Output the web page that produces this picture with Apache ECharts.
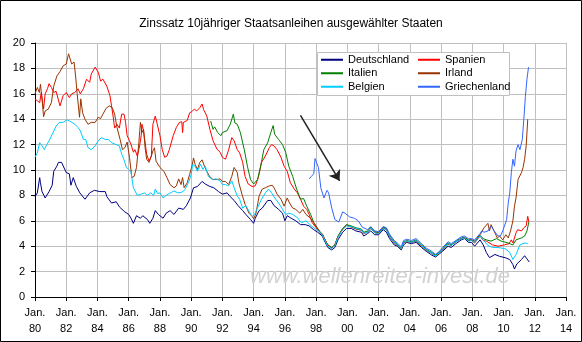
<!DOCTYPE html>
<html><head><meta charset="utf-8">
<script src="https://cdn.jsdelivr.net/npm/echarts@6/dist/echarts.min.js"></script>
<style>html,body{margin:0;padding:0;background:#fff}#c{width:582px;height:342px}</style>
</head><body><div id="c"></div>
<script>
const titleText = 'Zinssatz 10jähriger Staatsanleihen ausgewählter Staaten';
const watermarkText = 'www.wellenreiter-invest.de';
const seriesNames = ['Deutschland','Spanien','Italien','Irland','Belgien','Griechenland'];
const seriesColors = ['#000080','#ff0000','#008000','#993300','#00ccff','#3366ff'];
const xMin = 1980, xMax = 2014, xStep = 2;
const yMin = 0, yMax = 20, yStep = 2;
const arrowFrom = [1997.0, 14.3];
const arrowTo = [1999.5, 9.15];

const deutschland = [[1980.0,7.9],[1980.15,8.2],[1980.3,9.4],[1980.35,9.0],[1980.45,8.3],[1980.65,7.8],[1980.9,8.3],[1981.1,8.8],[1981.2,9.9],[1981.4,10.3],[1981.5,10.6],[1981.7,10.6],[1982.0,9.8],[1982.2,9.7],[1982.3,8.8],[1982.45,9.4],[1982.65,8.7],[1982.87,8.2],[1983.2,7.7],[1983.5,8.2],[1983.8,8.4],[1984.15,8.3],[1984.5,8.3],[1984.6,7.9],[1984.9,7.4],[1985.2,7.5],[1985.4,7.1],[1985.75,6.7],[1986.0,6.5],[1986.15,6.2],[1986.3,5.8],[1986.5,6.4],[1986.75,6.2],[1986.9,6.4],[1987.2,6.1],[1987.35,5.8],[1987.55,6.2],[1987.7,6.8],[1987.9,6.5],[1988.2,6.2],[1988.4,6.6],[1988.65,6.8],[1988.9,6.5],[1989.2,7.0],[1989.5,6.9],[1989.7,7.2],[1989.95,7.8],[1990.15,8.6],[1990.4,8.7],[1990.7,9.1],[1990.9,8.9],[1991.2,8.7],[1991.45,8.6],[1991.75,8.3],[1992.0,8.1],[1992.3,8.2],[1992.5,7.9],[1992.75,7.6],[1993.0,7.2],[1993.3,6.8],[1993.5,6.5],[1993.8,6.1],[1994.0,5.8],[1994.1,6.2],[1994.35,6.8],[1994.55,7.0],[1994.9,7.6],[1995.1,7.6],[1995.3,7.2],[1995.6,6.9],[1995.85,6.6],[1996.0,6.0],[1996.15,6.4],[1996.4,6.2],[1996.7,6.0],[1997.0,5.7],[1997.3,5.7],[1997.55,5.6],[1997.85,5.3],[1998.1,5.1],[1998.4,4.8],[1998.5,4.5],[1998.75,3.9],[1999.0,3.7],[1999.2,3.9],[1999.4,4.5],[1999.7,5.1],[1999.95,5.4],[2000.25,5.4],[2000.55,5.2],[2000.9,5.1],[2001.05,4.8],[2001.3,5.0],[2001.5,5.2],[2001.75,4.9],[2002.0,4.9],[2002.3,5.3],[2002.5,5.1],[2002.7,4.6],[2003.0,4.1],[2003.2,4.0],[2003.45,3.7],[2003.6,4.1],[2003.8,4.3],[2004.1,4.2],[2004.4,4.3],[2004.75,3.9],[2005.05,3.6],[2005.4,3.3],[2005.65,3.15],[2005.9,3.4],[2006.1,3.6],[2006.45,4.0],[2006.65,3.9],[2006.95,4.2],[2007.3,4.5],[2007.5,4.6],[2007.75,4.3],[2007.95,4.3],[2008.15,4.0],[2008.5,4.5],[2008.7,4.1],[2008.9,3.5],[2009.1,3.1],[2009.45,3.35],[2009.75,3.2],[2010.1,3.1],[2010.4,2.95],[2010.6,2.55],[2010.7,2.2],[2010.85,2.6],[2011.15,2.95],[2011.35,3.25],[2011.5,3.0],[2011.65,2.75]];

const spanien = [[1980.0,15.6],[1980.15,15.45],[1980.3,15.3],[1980.4,16.1],[1980.55,14.8],[1980.65,16.0],[1980.8,16.4],[1980.9,16.8],[1981.05,16.5],[1981.2,16.1],[1981.35,16.2],[1981.6,15.05],[1981.8,15.85],[1982.0,16.1],[1982.2,15.7],[1982.35,16.0],[1982.55,16.1],[1982.75,16.4],[1982.9,16.0],[1983.1,16.4],[1983.3,17.15],[1983.5,16.9],[1983.6,17.55],[1983.85,18.1],[1983.95,18.15],[1984.05,17.7],[1984.2,17.0],[1984.35,17.15],[1984.6,16.6],[1984.8,15.85],[1984.9,15.05],[1985.0,14.25],[1985.1,13.3],[1985.25,13.6],[1985.4,13.3],[1985.55,14.4],[1985.7,14.4],[1985.8,13.75],[1985.9,12.7],[1986.05,12.3],[1986.15,12.0],[1986.3,11.4],[1986.4,11.6],[1986.55,11.1],[1986.7,11.9],[1986.8,12.7],[1986.85,13.6],[1986.95,13.1],[1987.15,11.25],[1987.3,10.7],[1987.45,11.1],[1987.55,13.6],[1987.7,14.25],[1987.8,13.75],[1988.0,12.7],[1988.15,11.6],[1988.3,11.0],[1988.45,11.1],[1988.6,11.6],[1988.85,12.7],[1989.05,13.35],[1989.25,13.75],[1989.4,13.8],[1989.45,12.95],[1989.5,13.75],[1989.75,13.9],[1989.9,14.5],[1990.05,14.6],[1990.2,14.8],[1990.35,14.65],[1990.55,14.9],[1990.7,15.2],[1990.8,14.75],[1991.0,14.25],[1991.2,13.2],[1991.4,12.3],[1991.65,11.65],[1991.85,11.4],[1992.0,11.0],[1992.2,10.85],[1992.4,11.6],[1992.6,12.55],[1992.75,12.3],[1992.95,11.6],[1993.1,11.35],[1993.3,10.6],[1993.45,9.5],[1993.65,8.9],[1993.9,8.7],[1994.1,8.75],[1994.3,9.4],[1994.5,10.6],[1994.75,11.1],[1995.0,11.75],[1995.15,12.0],[1995.3,11.9],[1995.5,11.6],[1995.75,11.0],[1995.95,10.3],[1996.15,9.9],[1996.35,9.0],[1996.6,8.5],[1996.8,8.2],[1997.0,7.7],[1997.2,7.15],[1997.4,6.9],[1997.55,6.5],[1997.75,5.85],[1998.1,5.3],[1998.4,4.9],[1998.5,4.65],[1998.75,4.1],[1999.0,3.85],[1999.2,4.1],[1999.4,4.75],[1999.7,5.35],[1999.95,5.65],[2000.25,5.55],[2000.55,5.4],[2000.9,5.3],[2001.05,5.05],[2001.3,5.15],[2001.5,5.45],[2001.75,5.1],[2002.0,5.05],[2002.3,5.45],[2002.5,5.35],[2002.7,4.8],[2003.0,4.3],[2003.2,4.1],[2003.45,3.8],[2003.6,4.3],[2003.8,4.4],[2004.1,4.3],[2004.4,4.45],[2004.75,4.05],[2005.05,3.7],[2005.4,3.45],[2005.65,3.2],[2005.9,3.5],[2006.1,3.7],[2006.45,4.2],[2006.65,4.05],[2006.95,4.35],[2007.3,4.6],[2007.5,4.65],[2007.75,4.45],[2007.95,4.45],[2008.15,4.25],[2008.5,4.8],[2008.7,4.45],[2008.9,4.4],[2009.3,4.1],[2009.65,4.0],[2010.05,4.1],[2010.35,4.2],[2010.5,4.5],[2010.6,4.25],[2010.8,5.05],[2010.9,5.3],[2011.15,5.2],[2011.3,5.45],[2011.45,5.6],[2011.55,6.35],[2011.62,5.9]];

const italien = [[1991.25,13.85],[1991.4,13.2],[1991.5,13.4],[1991.7,12.95],[1991.9,12.7],[1992.0,12.95],[1992.3,13.1],[1992.5,13.6],[1992.7,14.4],[1992.8,13.7],[1992.95,13.6],[1993.15,12.95],[1993.4,11.6],[1993.6,10.3],[1993.8,9.25],[1994.0,8.9],[1994.25,9.25],[1994.45,10.3],[1994.65,11.6],[1994.9,12.15],[1995.1,12.95],[1995.25,13.5],[1995.35,12.8],[1995.6,12.4],[1995.85,12.0],[1996.05,11.4],[1996.25,10.3],[1996.5,9.5],[1996.75,8.5],[1997.0,7.7],[1997.2,7.75],[1997.4,7.15],[1997.65,6.5],[1997.85,5.85],[1998.2,5.2],[1998.45,4.8],[1998.5,4.7],[1998.75,4.1],[1999.0,3.9],[1999.2,4.1],[1999.4,4.8],[1999.7,5.4],[1999.95,5.7],[2000.25,5.6],[2000.55,5.45],[2000.9,5.35],[2001.05,5.1],[2001.3,5.2],[2001.5,5.5],[2001.75,5.15],[2002.0,5.1],[2002.3,5.5],[2002.5,5.4],[2002.7,4.85],[2003.0,4.35],[2003.2,4.15],[2003.45,3.85],[2003.6,4.35],[2003.8,4.45],[2004.1,4.35],[2004.4,4.5],[2004.75,4.1],[2005.05,3.75],[2005.4,3.5],[2005.65,3.3],[2005.9,3.55],[2006.1,3.8],[2006.45,4.25],[2006.65,4.1],[2006.95,4.4],[2007.3,4.65],[2007.5,4.7],[2007.75,4.5],[2007.95,4.5],[2008.15,4.35],[2008.5,4.85],[2008.7,4.6],[2008.9,4.5],[2009.2,4.4],[2009.55,4.6],[2009.85,4.4],[2010.3,4.25],[2010.6,4.1],[2010.8,4.5],[2011.15,4.65],[2011.35,4.8],[2011.5,5.2],[2011.62,5.9]];

const irland = [[1980.0,16.0],[1980.15,16.5],[1980.28,16.1],[1980.35,16.75],[1980.45,15.6],[1980.55,14.2],[1980.65,14.65],[1980.85,14.8],[1981.05,15.3],[1981.2,16.6],[1981.4,17.4],[1981.6,17.75],[1981.8,18.2],[1982.0,18.35],[1982.15,19.15],[1982.25,19.05],[1982.35,18.35],[1982.5,18.5],[1982.6,17.4],[1982.7,16.0],[1982.85,14.15],[1982.93,15.6],[1983.05,14.5],[1983.2,14.0],[1983.4,13.6],[1983.6,13.75],[1983.85,13.75],[1984.05,14.15],[1984.2,14.05],[1984.35,14.4],[1984.55,14.85],[1984.75,15.05],[1984.95,14.9],[1985.1,14.4],[1985.25,13.35],[1985.45,12.4],[1985.6,11.6],[1985.75,11.75],[1985.9,12.2],[1986.05,11.0],[1986.2,9.4],[1986.35,9.5],[1986.5,10.2],[1986.65,12.15],[1986.75,13.75],[1986.85,12.95],[1986.95,13.2],[1987.05,11.75],[1987.15,10.85],[1987.3,10.6],[1987.45,11.1],[1987.55,11.5],[1987.65,11.75],[1987.75,10.7],[1988.0,10.2],[1988.25,9.9],[1988.45,9.4],[1988.65,8.85],[1988.9,8.6],[1989.05,8.75],[1989.2,9.3],[1989.35,8.85],[1989.45,9.4],[1989.55,8.6],[1989.75,9.0],[1989.9,9.65],[1990.05,10.3],[1990.15,10.95],[1990.25,10.45],[1990.4,10.05],[1990.55,10.6],[1990.7,10.8],[1990.85,10.3],[1991.0,9.9],[1991.2,9.45],[1991.4,9.25],[1991.65,9.25],[1991.85,9.3],[1992.0,9.1],[1992.2,9.1],[1992.4,8.85],[1992.6,9.5],[1992.75,10.2],[1992.85,10.3],[1992.95,9.8],[1993.05,9.0],[1993.25,8.1],[1993.45,7.3],[1993.7,6.6],[1993.9,6.35],[1994.0,6.15],[1994.15,6.6],[1994.35,7.95],[1994.55,8.5],[1994.75,8.6],[1995.0,8.75],[1995.2,8.8],[1995.35,8.5],[1995.5,8.1],[1995.75,7.7],[1995.95,7.15],[1996.15,7.8],[1996.3,7.4],[1996.5,7.0],[1996.7,6.9],[1996.95,6.6],[1997.15,6.9],[1997.35,6.5],[1997.6,6.25],[1997.85,5.85],[1998.2,5.2],[1998.45,4.9],[1998.5,4.65],[1998.75,4.1],[1999.0,3.85],[1999.2,4.1],[1999.4,4.75],[1999.7,5.35],[1999.95,5.65],[2000.25,5.5],[2000.55,5.35],[2000.9,5.25],[2001.05,5.0],[2001.3,5.1],[2001.5,5.4],[2001.75,5.05],[2002.0,5.0],[2002.3,5.4],[2002.5,5.3],[2002.7,4.75],[2003.0,4.25],[2003.2,4.05],[2003.45,3.75],[2003.6,4.25],[2003.8,4.35],[2004.1,4.3],[2004.4,4.4],[2004.75,4.0],[2005.05,3.65],[2005.4,3.45],[2005.65,3.2],[2005.9,3.45],[2006.1,3.7],[2006.45,4.15],[2006.65,4.05],[2006.95,4.35],[2007.3,4.6],[2007.5,4.65],[2007.75,4.45],[2007.95,4.5],[2008.15,4.4],[2008.5,4.9],[2008.6,5.05],[2008.75,5.45],[2009.0,5.8],[2009.1,5.2],[2009.2,5.7],[2009.45,5.05],[2009.6,4.65],[2009.75,4.8],[2009.95,4.5],[2010.15,4.9],[2010.3,4.65],[2010.45,5.2],[2010.6,6.0],[2010.7,7.15],[2010.8,7.8],[2010.85,8.35],[2010.93,9.25],[2011.15,9.8],[2011.25,10.2],[2011.35,10.85],[2011.45,11.9],[2011.55,14.0]];

const belgien = [[1980.0,11.0],[1980.15,11.35],[1980.3,12.15],[1980.45,11.9],[1980.6,11.6],[1980.75,12.0],[1980.9,12.3],[1981.1,12.8],[1981.35,13.45],[1981.55,13.75],[1981.8,13.75],[1982.05,13.95],[1982.3,13.8],[1982.55,13.6],[1982.75,13.35],[1982.9,13.1],[1983.1,12.4],[1983.25,12.4],[1983.4,11.75],[1983.6,11.6],[1983.85,11.9],[1984.05,12.3],[1984.25,12.55],[1984.5,12.4],[1984.7,12.4],[1984.9,12.15],[1985.2,12.0],[1985.4,11.9],[1985.55,11.25],[1985.7,10.8],[1985.85,10.2],[1986.0,10.05],[1986.15,9.8],[1986.3,8.6],[1986.55,8.0],[1986.8,8.1],[1987.0,8.2],[1987.2,8.0],[1987.4,8.2],[1987.6,8.0],[1987.7,8.5],[1987.85,8.15],[1988.0,8.2],[1988.2,7.8],[1988.4,8.0],[1988.6,8.15],[1988.9,8.35],[1989.15,8.2],[1989.4,8.25],[1989.6,8.45],[1989.85,9.1],[1990.0,9.65],[1990.1,10.45],[1990.25,10.3],[1990.4,9.9],[1990.6,10.45],[1990.75,10.05],[1990.9,10.3],[1991.1,9.5],[1991.35,9.25],[1991.6,9.3],[1991.85,9.15],[1992.0,8.85],[1992.2,8.85],[1992.4,8.75],[1992.6,9.15],[1992.75,8.6],[1992.95,7.95],[1993.1,7.7],[1993.3,7.0],[1993.5,7.2],[1993.7,6.75],[1993.9,6.35],[1994.05,6.5],[1994.3,7.15],[1994.5,7.7],[1994.75,8.2],[1994.95,8.5],[1995.15,8.2],[1995.35,7.8],[1995.6,7.4],[1995.85,6.9],[1996.05,6.5],[1996.25,6.6],[1996.5,6.5],[1996.8,6.25],[1997.05,5.85],[1997.35,6.0],[1997.6,5.7],[1997.85,5.45],[1998.15,5.2],[1998.4,4.9],[1998.5,4.6],[1998.75,4.0],[1999.0,3.8],[1999.2,4.05],[1999.4,4.7],[1999.7,5.3],[1999.95,5.6],[2000.25,5.55],[2000.55,5.4],[2000.9,5.3],[2001.05,5.05],[2001.3,5.1],[2001.5,5.45],[2001.75,5.05],[2002.0,5.0],[2002.3,5.4],[2002.5,5.3],[2002.7,4.8],[2003.0,4.3],[2003.2,4.1],[2003.45,3.8],[2003.6,4.3],[2003.8,4.4],[2004.1,4.3],[2004.4,4.45],[2004.75,4.05],[2005.05,3.7],[2005.4,3.45],[2005.65,3.2],[2005.9,3.5],[2006.1,3.7],[2006.45,4.2],[2006.65,4.05],[2006.95,4.35],[2007.3,4.6],[2007.5,4.65],[2007.75,4.4],[2007.95,4.45],[2008.15,4.3],[2008.5,4.8],[2008.7,4.5],[2009.0,4.05],[2009.3,3.9],[2009.65,3.9],[2010.1,3.8],[2010.4,3.5],[2010.6,2.95],[2010.8,3.35],[2011.05,4.1],[2011.35,4.25],[2011.55,4.2]];

const griechenland = [[1997.55,9.3],[1997.7,9.5],[1997.85,9.7],[1997.93,10.9],[1998.05,11.0],[1998.15,10.2],[1998.3,8.6],[1998.5,7.8],[1998.7,8.4],[1998.8,8.2],[1999.0,7.0],[1999.2,6.1],[1999.45,5.9],[1999.7,6.7],[1999.85,6.6],[2000.15,6.3],[2000.45,6.2],[2000.7,6.0],[2000.95,5.5],[2001.3,5.3],[2001.5,5.55],[2001.75,5.2],[2002.0,5.15],[2002.3,5.55],[2002.5,5.45],[2002.7,4.95],[2003.0,4.45],[2003.2,4.25],[2003.45,3.95],[2003.6,4.45],[2003.8,4.55],[2004.1,4.45],[2004.4,4.6],[2004.75,4.2],[2005.05,3.85],[2005.4,3.6],[2005.65,3.35],[2005.9,3.6],[2006.1,3.9],[2006.45,4.35],[2006.65,4.2],[2006.95,4.45],[2007.3,4.75],[2007.5,4.8],[2007.75,4.6],[2007.95,4.6],[2008.15,4.5],[2008.5,5.0],[2008.6,5.2],[2008.75,5.1],[2009.0,5.2],[2009.2,5.6],[2009.4,5.2],[2009.65,4.8],[2009.8,4.8],[2009.95,5.2],[2010.2,6.1],[2010.3,7.4],[2010.4,8.2],[2010.5,9.8],[2010.6,10.85],[2010.7,10.3],[2010.8,11.5],[2010.93,12.0],[2011.05,11.6],[2011.2,12.4],[2011.3,14.0],[2011.4,15.8],[2011.5,17.15],[2011.6,18.1]];

const seriesData = [deutschland, spanien, italien, irland, belgien, griechenland];

const font = 'Liberation Sans, Arial, sans-serif';
const chart = echarts.init(document.getElementById('c'), null, {renderer: 'canvas'});

const series = seriesNames.map((name, i) => ({
  name: name,
  type: 'line',
  data: seriesData[i],
  showSymbol: false,
  symbol: 'none',
  color: seriesColors[i],
  lineStyle: {width: 1, color: seriesColors[i]},
  z: 3 + i,
  animation: false
}));
series[0].markLine = {
  silent: true,
  symbol: ['none', 'arrow'],
  symbolSize: 10,
  label: {show: false},
  lineStyle: {color: '#222', width: 1.5, type: 'solid'},
  data: [[{coord: arrowFrom, symbol: 'none'}, {coord: arrowTo, symbol: 'arrow', symbolSize: 10}]],
  animation: false
};

const legendCommon = {
  orient: 'vertical',
  icon: 'rect',
  itemWidth: 22,
  itemHeight: 2,
  itemGap: 1,
  z: 20,
  padding: 0,
  itemStyle: {borderWidth: 0},
  textStyle: {fontFamily: font, fontSize: 11, color: '#000', lineHeight: 12.5}
};

chart.setOption({
  backgroundColor: '#fff',
  animation: false,
  title: {
    text: titleText,
    left: 'center',
    top: 13,
    textStyle: {fontFamily: font, fontSize: 12, fontWeight: 'normal', color: '#000'}
  },
  legend: [
    Object.assign({}, legendCommon, {data: [seriesNames[0], seriesNames[2], seriesNames[4]], left: 321, top: 53.5}),
    Object.assign({}, legendCommon, {data: [seriesNames[1], seriesNames[3], seriesNames[5]], left: 418, top: 53.5})
  ],
  grid: {left: 35, right: 16, top: 43, bottom: 45, containLabel: false},
  xAxis: {
    type: 'value',
    min: xMin, max: xMax, interval: xStep,
    axisLine: {show: true, lineStyle: {color: '#000', width: 1}},
    axisTick: {show: true, length: 4, lineStyle: {color: '#000'}},
    splitLine: {show: true, lineStyle: {color: '#c0c0c0', width: 1}},
    axisLabel: {
      fontFamily: font, fontSize: 11, color: '#000', margin: 8, lineHeight: 16,
      formatter: v => 'Jan.\n' + String(v % 100).padStart(2, '0')
    }
  },
  yAxis: {
    type: 'value',
    min: yMin, max: yMax, interval: yStep,
    axisLine: {show: true, lineStyle: {color: '#000', width: 1}},
    axisTick: {show: true, length: 4, lineStyle: {color: '#000'}},
    splitLine: {show: true, lineStyle: {color: '#c0c0c0', width: 1}},
    axisLabel: {fontFamily: font, fontSize: 11, color: '#000', margin: 10}
  },
  graphic: [
    {type: 'rect', z: 10, silent: true, shape: {x: 317.5, y: 52.5, width: 192, height: 43},
      style: {fill: '#fff', stroke: '#c0c0c0', lineWidth: 1}},
    {type: 'text', z: 1, silent: true, left: 250, top: 266,
      style: {text: watermarkText, fill: '#d2d2d2', font: 'italic 22px ' + font}},
    {type: 'rect', z: 30, silent: true, shape: {x: 0.5, y: 0.5, width: 581, height: 341},
      style: {fill: 'none', stroke: '#000', lineWidth: 1}}
  ],
  series: series
});
</script></body></html>
